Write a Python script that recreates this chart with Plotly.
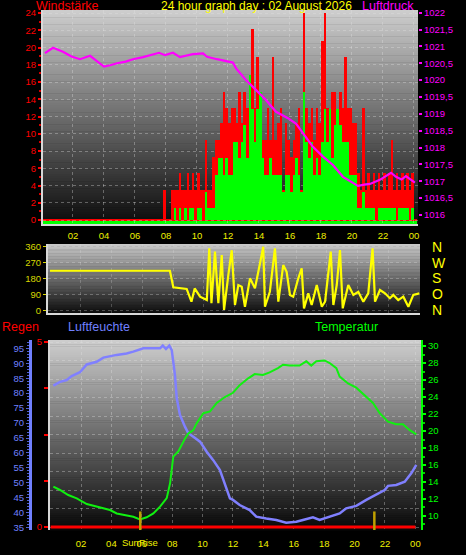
import plotly.graph_objects as go

W, H = 466, 555


def px(x):
    return x / W


def py(y):
    return 1 - y / H


# ---------------- data ----------------
hour_ticks = [2, 4, 6, 8, 10, 12, 14, 16, 18, 20, 22, 24]
hour_tick_labels = ["02", "04", "06", "08", "10", "12", "14", "16", "18", "20", "22", "00"]

# wind speed, 10-minute bins starting at 00:00
wind_hours = [i / 6 for i in range(144)]
wind_gust = [0] * 47 + [
    3.5, 0, 0, 3.5, 3.5, 3.5, 5.4, 3.5, 3.5, 5.4, 3.5, 5.4, 3.5, 5.4, 3.5, 3.5,
    9.3, 3.5, 3.5, 7.3, 9.3, 9.3, 11.2, 14.9, 13.0, 11.2, 13.0, 13.0, 11.2, 14.9,
    11.2, 14.9, 13.0, 12.9, 22.2, 13.0, 18.9, 14.9, 9.3, 9.3, 13.0, 9.3, 18.9,
    9.3, 11.2, 13.0, 3.5, 11.2, 9.3, 7.3, 9.3, 11.2, 13.0, 3.5, 24.0, 13.0, 11.2,
    13.0, 9.3, 13.0, 11.2, 20.8, 24.0, 13.0, 5.4, 14.9, 14.9, 11.2, 14.9, 13.0,
    18.9, 13.0, 13.0, 11.2, 11.2, 5.4, 3.5, 13.0, 3.5, 5.4, 3.5, 5.4, 3.5, 5.4,
    3.5, 5.4, 3.5, 5.4, 9.3, 3.5, 5.4, 3.5, 5.4, 3.5, 5.4, 3.5, 5.4,
]
wind_avg = [0] * 47 + [
    0, 0, 0, 0, 1.4, 0, 1.4, 0, 1.4, 0, 1.4, 1.4, 0, 1.4, 1.4, 0,
    3.3, 1.4, 1.4, 1.4, 5.2, 7.2, 7.2, 5.2, 7.2, 5.2, 5.2, 9.1, 9.1, 7.2,
    9.1, 11.0, 7.2, 16.8, 12.9, 9.1, 12.9, 14.9, 7.2, 5.2, 5.2, 7.2, 5.2,
    5.2, 5.2, 5.2, 3.3, 5.2, 5.2, 3.3, 5.2, 7.2, 5.2, 3.3, 14.9, 9.1, 7.2,
    9.1, 5.2, 7.2, 5.2, 9.1, 12.9, 9.1, 12.9, 7.2, 11.0, 12.9, 11.0, 9.1,
    9.1, 9.1, 5.2, 5.2, 5.2, 1.4, 1.4, 3.3, 1.4, 1.4, 1.4, 1.4, 0, 1.4,
    1.4, 1.4, 1.4, 1.4, 1.4, 1.4, 0, 1.4, 1.4, 1.4, 1.4, 0, 1.4,
]

# air pressure (hPa)
pressure_hours = [0.19, 0.71, 1.35, 1.9, 2.45, 3.1, 3.5, 4.0, 4.4, 4.84, 5.4, 5.87,
                  6.52, 7.0, 7.55, 7.94, 8.45, 8.9, 9.3, 9.74, 10.39, 10.65, 11.29,
                  11.94, 12.32, 12.52, 13.16, 13.8, 14.45, 15.1, 15.87, 16.4, 16.84,
                  17.48, 18.13, 18.77, 19.42, 19.87, 20.39, 20.8, 21.16, 21.8, 22.52,
                  22.84, 23.2, 23.48, 24.06]
pressure_hpa = [1020.80, 1020.96, 1020.84, 1020.70, 1020.62, 1020.72, 1020.58, 1020.40,
                1020.44, 1020.50, 1020.55, 1020.62, 1020.68, 1020.74, 1020.81, 1020.74,
                1020.81, 1020.68, 1020.72, 1020.77, 1020.79, 1020.69, 1020.62, 1020.55,
                1020.52, 1020.35, 1020.00, 1019.71, 1019.41, 1019.06, 1018.87, 1018.70,
                1018.42, 1018.02, 1017.73, 1017.48, 1017.13, 1017.01, 1016.86, 1016.90,
                1016.92, 1017.04, 1017.25, 1017.13, 1017.05, 1017.15, 1016.96]

# wind direction (degrees)
dir_hours = [0.0, 7.8, 8.02, 8.56, 8.89, 9.2, 9.41, 9.76, 10.2, 10.36, 10.5, 10.73,
             10.95, 11.17, 11.32, 11.6, 11.82, 12.03, 12.25, 12.47, 12.68, 13.01,
             13.33, 13.66, 13.87, 13.98, 14.3, 14.63, 14.85, 15.17, 15.39, 15.61,
             15.82, 16.15, 16.37, 16.52, 16.8, 17.02, 17.35, 17.68, 17.89, 18.26,
             18.43, 18.65, 18.86, 19.04, 19.4, 19.73, 20.05, 20.38, 20.7, 20.98,
             21.14, 21.46, 21.79, 22.11, 22.33, 22.65, 22.98, 23.31, 23.63, 24.02]
dir_deg = [224, 224, 130, 124, 121, 49, 124, 77, 58, 351, 40, 332,
           40, 313, 2, 200, 340, 30, 143, 134, 20, 181,
           124, 266, 360, 20, 105, 351, 49, 256, 218, 87,
           77, 181, 238, 11, 96, 30, 143, 20, 49, 332,
           30, 143, 341, 11, 143, 87, 105, 49, 96, 351,
           49, 115, 96, 68, 87, 58, 77, 20, 87, 96]
dir_tick_labels = ["N", "O", "S", "W", "N"]

# humidity (%)
hum_hours = [0.18, 0.62, 1.06, 1.39, 1.93, 2.38, 3.03, 3.47, 4.35, 5.0, 5.44, 6.1,
             7.2, 7.38, 7.59, 7.81, 7.97, 8.18, 8.3, 8.51, 8.84, 9.06, 9.39, 9.83,
             10.27, 10.7, 11.14, 11.59, 11.8, 12.0, 12.44, 13.1, 13.53, 14.19, 14.85,
             15.5, 16.17, 16.6, 17.26, 17.7, 18.36, 19.02, 19.45, 20.11, 20.77, 21.43,
             21.98, 22.2, 22.74, 23.3, 23.73, 24.06]
hum_pct = [82.5, 83.8, 84.4, 85.7, 87.0, 89.6, 90.5, 91.9, 92.8, 93.3, 93.9, 95.0,
           95.0, 95.9, 94.8, 95.9, 94.4, 86.1, 78.3, 72.7, 68.8, 66.6, 65.4, 63.8,
           60.4, 57.6, 54.3, 48.2, 44.8, 44.3, 42.6, 40.9, 38.7, 38.1, 37.6,
           36.7, 37.0, 37.6, 38.5, 37.6, 38.7, 39.8, 41.5, 42.3, 44.3, 46.2,
           47.6, 49.0, 49.3, 50.4, 53.2, 56.0]

# temperature (°C)
temp_hours = [0.18, 0.62, 1.16, 1.72, 2.38, 3.03, 3.47, 3.91, 4.35, 5.0, 5.44, 5.88,
              6.32, 6.76, 7.2, 7.64, 7.86, 8.07, 8.4, 8.84, 9.06, 9.39, 9.61, 10.05,
              10.49, 10.93, 11.47, 12.0, 12.44, 13.0, 13.43, 13.97, 14.41, 14.96,
              15.29, 15.73, 16.38, 16.82, 17.15, 17.48, 18.03, 18.36, 18.8, 19.02,
              19.57, 20.11, 20.66, 21.21, 21.65, 22.2, 22.74, 23.18, 23.63, 24.06]
temp_c = [13.45, 13.06, 12.47, 12.08, 11.41, 11.1, 10.9, 10.7, 10.3, 10.1, 9.9, 9.6,
          9.85, 10.3, 11.1, 12.1, 13.85, 16.98, 17.6, 19.1, 19.7, 20.1, 20.9, 22.1,
          22.3, 23.3, 24.0, 24.5, 25.4, 26.2, 26.7, 26.6, 26.9, 27.4,
          27.8, 27.7, 27.7, 28.2, 27.7, 28.2, 28.3, 28.0, 27.4, 26.4,
          25.6, 25.1, 24.2, 23.3, 22.1, 21.1, 20.8, 20.8, 20.1, 19.6]

# rain (mm)
rain_hours = [0, 24]
rain_mm = [0, 0]

# sunrise / sunset
sun_hours = [5.9, 21.3]

# ---------------- figure ----------------
FONT = "Liberation Sans"
YELLOW = "#f0f000"
GRID = "rgba(225,225,225,0.35)"

fig = go.Figure()

fig.add_trace(go.Bar(x=wind_hours, y=wind_gust, xaxis="x", yaxis="y",
                     marker=dict(color="#ff0000", line=dict(width=0)),
                     width=1 / 6, offset=0, hoverinfo="skip"))
fig.add_trace(go.Bar(x=wind_hours, y=wind_avg, xaxis="x", yaxis="y",
                     marker=dict(color="#00ff00", line=dict(width=0)),
                     width=1 / 6, offset=0, hoverinfo="skip"))
fig.add_trace(go.Scatter(x=pressure_hours, y=pressure_hpa, xaxis="x", yaxis="y2",
                         mode="lines", line=dict(color="#ff00ff", width=2.2),
                         hoverinfo="skip"))

fig.add_trace(go.Scatter(x=dir_hours, y=dir_deg, xaxis="x3", yaxis="y3",
                         mode="lines", line=dict(color="#ffff00", width=2.2),
                         hoverinfo="skip"))
fig.add_trace(go.Scatter(x=dir_hours, y=dir_deg, xaxis="x3", yaxis="y4",
                         mode="lines", line=dict(color="rgba(0,0,0,0)", width=0),
                         hoverinfo="skip"))

fig.add_trace(go.Scatter(x=rain_hours, y=rain_mm, xaxis="x5", yaxis="y7",
                         mode="lines", line=dict(color="#ff0000", width=3),
                         hoverinfo="skip"))
fig.add_trace(go.Scatter(x=hum_hours, y=hum_pct, xaxis="x5", yaxis="y5",
                         mode="lines", line=dict(color="#8080ff", width=2.5),
                         hoverinfo="skip"))
fig.add_trace(go.Scatter(x=temp_hours, y=temp_c, xaxis="x5", yaxis="y6",
                         mode="lines", line=dict(color="#10f010", width=2),
                         hoverinfo="skip"))

shapes = []


def gradient(x0, x1, y0, y1, top, bottom, n=90):
    for k in range(n):
        t = k / (n - 1)
        c = [round(top[j] + (bottom[j] - top[j]) * t) for j in range(3)]
        ya = y0 + (y1 - y0) * k / n
        yb = y0 + (y1 - y0) * (k + 1) / n + 0.5
        shapes.append(dict(type="rect", xref="paper", yref="paper",
                           x0=px(x0), x1=px(x1), y0=py(yb), y1=py(ya),
                           fillcolor="rgb(%d,%d,%d)" % tuple(c),
                           line=dict(width=0), layer="below"))


gradient(43, 418, 10, 224, (205, 205, 205), (12, 12, 12))
gradient(48, 420, 244, 313, (200, 200, 200), (14, 14, 14))
gradient(50, 421, 340, 530, (205, 205, 205), (8, 8, 8))

# wind baselines
shapes.append(dict(type="rect", xref="x", yref="y", x0=0, x1=24.2, y0=-0.46, y1=0,
                   fillcolor="#00ff00", line=dict(width=0), layer="below"))
shapes.append(dict(type="line", xref="x", yref="y", x0=0, x1=24.2, y0=0, y1=0,
                   line=dict(color="#ff0000", width=2), layer="below"))

for h in sun_hours:
    shapes.append(dict(type="line", xref="x5", yref="y7", x0=h, x1=h, y0=-0.081, y1=0.42,
                       line=dict(color="#c0a000", width=2.5), layer="above"))

annotations = [
    dict(text="Windstärke", x=px(34), y=py(6), xanchor="left", yanchor="middle",
         font=dict(color="#ff0000", size=12.5, family=FONT)),
    dict(text="24 hour graph day : 02 August 2026", x=px(256), y=py(6), xanchor="center",
         yanchor="middle", font=dict(color="#ffff00", size=12, family=FONT)),
    dict(text="Luftdruck", x=px(416), y=py(6), xanchor="right", yanchor="middle",
         font=dict(color="#ff00ff", size=12.5, family=FONT)),
    dict(text="Regen", x=px(0), y=py(327), xanchor="left", yanchor="middle",
         font=dict(color="#ff0000", size=12.5, family=FONT)),
    dict(text="Luftfeuchte", x=px(66), y=py(327), xanchor="left", yanchor="middle",
         font=dict(color="#7080ff", size=12.5, family=FONT)),
    dict(text="Temperatur", x=px(313), y=py(327), xanchor="left", yanchor="middle",
         font=dict(color="#00ff00", size=12.5, family=FONT)),
    dict(text="SunRise", x=sun_hours[0], xref="x5", y=py(542), yref="paper",
         xanchor="center", yanchor="middle", showarrow=False,
         font=dict(color=YELLOW, size=9.5, family=FONT)),
]
for a in annotations:
    a.setdefault("xref", "paper")
    a.setdefault("yref", "paper")
    a["showarrow"] = False

tickfont = dict(size=9.5, family=FONT)

fig.update_layout(
    width=W, height=H, margin=dict(l=0, r=0, t=0, b=0, pad=0, autoexpand=False),
    paper_bgcolor="#000000", plot_bgcolor="rgba(0,0,0,0)",
    showlegend=False, barmode="overlay", bargap=0,
    shapes=shapes, annotations=annotations,
    xaxis=dict(domain=[px(43), px(418)], range=[0.065, 24.26], anchor="y",
               tickvals=hour_ticks, ticktext=hour_tick_labels,
               tickfont=dict(color=YELLOW, **tickfont), ticks="", ticklabelstandoff=2,
               showgrid=True, gridcolor=GRID, griddash="dot", gridwidth=1,
               showline=True, linecolor="#d8d8d8", linewidth=2, zeroline=False),
    yaxis=dict(domain=[py(224), py(10)], range=[-0.46, 24.35], anchor="x",
               tickvals=list(range(0, 25, 2)),
               tickfont=dict(color="#ff0000", **tickfont),
               ticks="outside", ticklen=3, tickcolor="#ff0000", tickwidth=2,
               minor=dict(dtick=1, ticks="outside", ticklen=2, tickcolor="#d00000"),
               showgrid=True, gridcolor=GRID, griddash="dot",
               showline=True, linecolor="#d8d8d8", linewidth=2, zeroline=False),
    yaxis2=dict(overlaying="y", side="right", anchor="x", range=[1015.73, 1022.08],
                tickvals=[1016, 1016.5, 1017, 1017.5, 1018, 1018.5, 1019, 1019.5,
                          1020, 1020.5, 1021, 1021.5, 1022],
                ticktext=["1016", "1016,5", "1017", "1017,5", "1018", "1018,5", "1019",
                          "1019,5", "1020", "1020,5", "1021", "1021,5", "1022"],
                tickfont=dict(color="#ff00ff", **tickfont),
                ticks="outside", ticklen=3, tickcolor="#ff00ff", tickwidth=2,
                showgrid=False, zeroline=False, showline=False),
    xaxis3=dict(domain=[px(48), px(420)], range=[-0.13, 24.065], anchor="y3",
                tickvals=hour_ticks, showticklabels=False, ticks="",
                showgrid=True, gridcolor="rgba(225,225,225,0.25)", griddash="dot",
                showline=True, linecolor="#d8d8d8", linewidth=2, zeroline=False),
    yaxis3=dict(domain=[py(313), py(244)], range=[-15.3, 375.3], anchor="x3",
                tickvals=[0, 90, 180, 270, 360],
                tickfont=dict(color="#d8d800", **tickfont),
                ticks="outside", ticklen=3, tickcolor="#d8d800",
                showgrid=True, gridcolor="rgba(225,225,225,0.3)", griddash="dot",
                showline=True, linecolor="#d8d8d8", linewidth=2, zeroline=False),
    yaxis4=dict(overlaying="y3", side="right", anchor="x3", range=[-15.3, 375.3],
                tickvals=[0, 90, 180, 270, 360], ticktext=dir_tick_labels,
                tickfont=dict(color="#ffff00", size=14, family=FONT),
                ticks="", ticklabelstandoff=11, showgrid=False, zeroline=False,
                showline=False),
    xaxis5=dict(domain=[px(50), px(421)], range=[-0.04, 24.37], anchor="y7",
                tickvals=hour_ticks, ticktext=hour_tick_labels,
                tickfont=dict(color=YELLOW, **tickfont), ticks="", ticklabelstandoff=6,
                showgrid=True, gridcolor=GRID, griddash="dot",
                showline=False, zeroline=False),
    yaxis7=dict(domain=[py(530), py(340)], range=[-0.081, 5.054], anchor="x5",
                tickvals=[0, 1.25, 2.5, 3.75, 5], ticktext=["0", "", "", "", "5"],
                tickfont=dict(color="#ff0000", **tickfont),
                ticks="outside", ticklen=4, tickcolor="#ff0000", tickwidth=2,
                showgrid=False,
                minor=dict(dtick=0.5, showgrid=True, gridcolor=GRID, griddash="dot",
                           ticks=""),
                showline=True, linecolor="#d8d8d8", linewidth=2, zeroline=False),
    yaxis5=dict(overlaying="y7", anchor="free", position=px(30), side="left",
                range=[34.24, 97.78], tickvals=list(range(35, 100, 5)),
                tickfont=dict(color="#7080ff", **tickfont),
                ticks="outside", ticklen=3, tickcolor="#5060d0",
                minor=dict(dtick=1, ticks="outside", ticklen=2, tickcolor="#5060d0"),
                showgrid=False, zeroline=False,
                showline=True, linecolor="#7080ff", linewidth=3),
    yaxis6=dict(overlaying="y7", anchor="x5", side="right", range=[8.35, 30.71],
                tickvals=list(range(10, 31, 2)),
                tickfont=dict(color="#00ff00", **tickfont),
                ticks="outside", ticklen=3, tickcolor="#00ff00", tickwidth=2,
                minor=dict(dtick=1, ticks="outside", ticklen=2, tickcolor="#00d000"),
                showgrid=False, zeroline=False,
                showline=True, linecolor="#00ff00", linewidth=2),
)
for ax in ["xaxis", "yaxis", "yaxis2", "xaxis3", "yaxis3", "yaxis4",
           "xaxis5", "yaxis5", "yaxis6", "yaxis7"]:
    fig.layout[ax].automargin = False
    fig.layout[ax].fixedrange = True

fig.write_html("out.html", config={"displayModeBar": False, "staticPlot": True},
               post_script="document.body.style.margin='0px';"
                           "document.body.style.overflow='hidden';"
                           "document.body.style.background='#000';")
